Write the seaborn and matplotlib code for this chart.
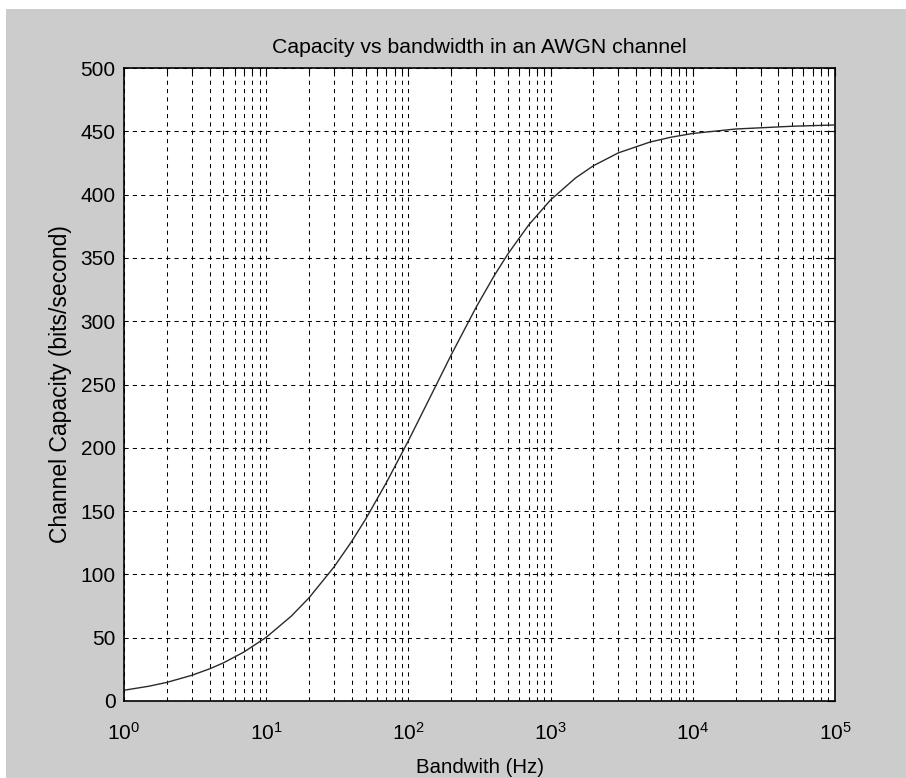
import matplotlib
matplotlib.use("Agg")
import matplotlib.pyplot as plt
from matplotlib.patches import Rectangle
from matplotlib.ticker import LogLocator, NullFormatter, MultipleLocator
import seaborn as sns
import pandas as pd

# values
bandwidth_hz = [1, 1.5, 2, 3, 4, 5, 7, 10, 15, 20, 30, 40, 50, 70, 100, 150, 200,
                300, 400, 500, 700, 1000, 1500, 2000, 3000, 5000, 7000, 10000,
                20000, 50000, 100000]
capacity_bps = [8.5, 11.7, 14.7, 20.3, 25.4, 30.1, 38.8, 50.3, 67.0, 81.5, 105.9,
                126.2, 143.6, 172.5, 205.6, 245.2, 273.4, 311.2, 335.7, 353.0,
                375.9, 395.8, 413.2, 422.8, 433.0, 441.5, 445.3, 448.3, 451.8,
                454.0, 455.0]
title_text = "Capacity vs bandwidth in an AWGN channel"
x_label = "Bandwith (Hz)"
y_label = "Channel Capacity (bits/second)"

df = pd.DataFrame({"bandwidth": bandwidth_hz, "capacity": capacity_bps})

sns.set_style("white")
plt.rcParams["font.family"] = ["Liberation Sans", "DejaVu Sans"]
plt.rcParams["mathtext.fontset"] = "custom"
plt.rcParams["mathtext.rm"] = "Liberation Sans"
plt.rcParams["mathtext.it"] = "Liberation Sans"

W, H = 906, 778
fig = plt.figure(figsize=(W / 100, H / 100), dpi=100, facecolor="#cccccc")
fig.patches.append(Rectangle((0, 1 - 9 / H), 1, 9 / H, transform=fig.transFigure,
                             facecolor="white", edgecolor="none", zorder=-5))
fig.patches.append(Rectangle((0, 0), 6 / W, 1, transform=fig.transFigure,
                             facecolor="white", edgecolor="none", zorder=-5))

ax = fig.add_axes([124 / W, 1 - 701 / H, (835 - 124) / W, (701 - 68) / H])
ax.set_facecolor("white")

sns.lineplot(data=df, x="bandwidth", y="capacity", ax=ax, color="#2a2a2a",
             linewidth=1.0, zorder=3)

ax.set_xscale("log")
ax.set_xlim(1, 1e5)
ax.set_ylim(0, 500)
ax.yaxis.set_major_locator(MultipleLocator(50))
ax.xaxis.set_major_locator(LogLocator(base=10, numticks=10))
ax.xaxis.set_minor_locator(LogLocator(base=10, subs=range(2, 10), numticks=100))
ax.xaxis.set_minor_formatter(NullFormatter())

dash = (0, (4, 4))
ax.grid(True, which="both", axis="x", linestyle=dash, color="black", linewidth=0.75)
ax.grid(True, which="major", axis="y", linestyle=dash, color="black", linewidth=0.75)

for s in ax.spines.values():
    s.set_visible(True)
    s.set_color("black")
    s.set_linewidth(1.2)

ax.tick_params(which="both", direction="in", top=True, right=True, colors="black")
ax.tick_params(which="major", length=6, width=0.8, labelsize=15)
ax.tick_params(which="minor", length=3.5, width=0.8)
ax.tick_params(axis="x", which="major", pad=15)
ax.tick_params(axis="y", which="major", pad=6)

ax.set_title(title_text, fontsize=15.3, pad=10.5, color="black")
ax.set_xlabel(x_label, fontsize=14.7, labelpad=10, color="black")
ax.set_ylabel(y_label, fontsize=16.5, labelpad=6, color="black")

fig.savefig("out.png", dpi=100, facecolor=fig.get_facecolor())
